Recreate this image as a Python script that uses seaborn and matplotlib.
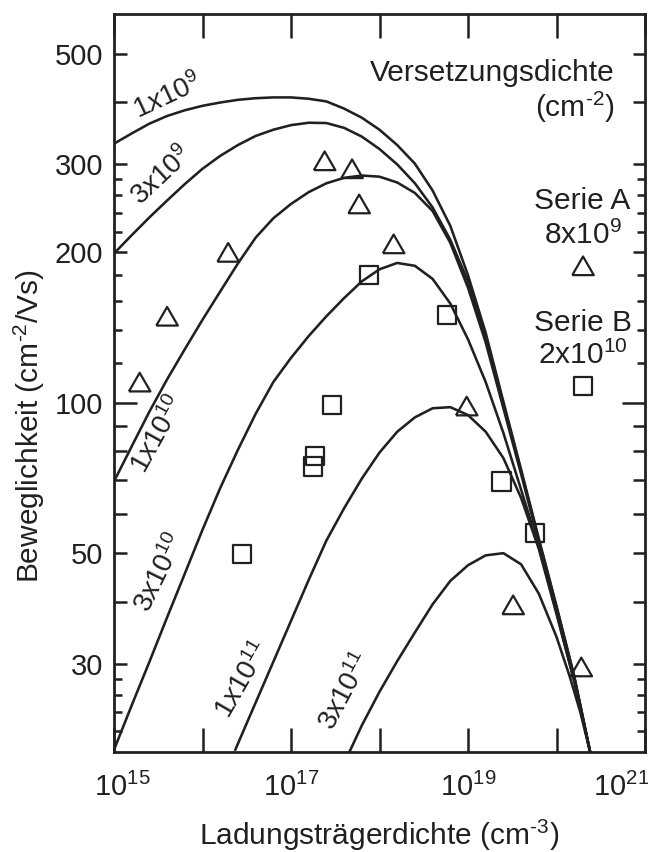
import numpy as np
import pandas as pd
import matplotlib
matplotlib.use("Agg")
import matplotlib.pyplot as plt
import matplotlib.ticker as mticker
from matplotlib.transforms import ScaledTranslation
import seaborn as sns

# ---------------- data ----------------
# log10 of carrier density and mobility (cm^2/Vs) along each curve
grid_logn = [15.0, 15.2, 15.4, 15.6, 15.8, 16.0, 16.2, 16.4, 16.6, 16.8, 17.0, 17.2, 17.4, 17.6,
             17.8, 18.0, 18.2, 18.4, 18.6, 18.8, 19.0, 19.2, 19.4, 19.6, 19.8, 20.0, 20.2, 20.38]
a_mu = [330, 346, 362, 375, 385, 393, 399, 404, 407, 408.5, 408.5, 406, 401, 388,
        372, 352, 328, 301, 266, 226, 180, 138, 100.5, 73.5, 53.5, 39.2, 28.4, 20]
b_mu = [199, 216.5, 235, 254, 274, 294, 312, 328, 342, 352, 359.5, 363.5, 363, 355,
        341, 322, 300, 275, 246, 212, 175, 135.5, 99.5, 73, 53.1, 39, 28.3, 20]
c_mu = [69.6, 81.8, 96, 111.4, 128, 146.6, 167, 190, 214, 234, 250, 264, 275, 282,
        285, 283.5, 276, 263, 242, 209, 170, 132, 97.5, 72, 52.6, 38.8, 28.2, 20]
d_mu = [20.2, 24.8, 30.3, 37.2, 45.5, 55.7, 67.5, 80.5, 95, 110, 123, 136, 149, 162,
        175, 185, 190.5, 188, 177, 158, 134, 110, 87, 67, 51.5, 38, 27.8, 20]

e_logn = [16.37, 16.6, 16.8, 17.0, 17.2, 17.4, 17.6, 17.8, 18.0, 18.2, 18.4, 18.6, 18.8,
          19.0, 19.2, 19.4, 19.6, 19.8, 20.0, 20.2, 20.38]
e_mu = [20.2, 25.1, 30.3, 36.6, 44.2, 53, 61.5, 70.5, 79.5, 87.5, 93.5, 97.5, 98,
        94.5, 87.5, 77.5, 64.5, 51, 37.8, 27.7, 20]

f_logn = [17.66, 17.8, 18.0, 18.2, 18.4, 18.6, 18.8, 19.0, 19.2, 19.4, 19.6, 19.8, 20.0,
          20.15, 20.27, 20.38]
f_mu = [20, 22.6, 26.4, 30.4, 34.7, 39.5, 44, 47.3, 49.5, 50, 47.5, 41.5, 34, 28.3, 24, 20]

curve_logn = [grid_logn, grid_logn, grid_logn, grid_logn, e_logn, f_logn]
curve_mu = [a_mu, b_mu, c_mu, d_mu, e_mu, f_mu]
curve_names = ["1e9", "3e9", "1e10", "3e10", "1e11", "3e11"]

# Serie A (triangles) and Serie B (squares)
serieA_logn = [15.29, 15.60, 16.29, 17.38, 17.69, 17.77, 18.16, 18.985, 19.51, 20.28]
serieA_mu = [110, 149, 200, 305, 294, 250, 208, 98.5, 39.4, 29.6]
serieB_logn = [16.45, 17.27, 17.25, 17.46, 17.885, 18.76, 19.38, 19.76]
serieB_mu = [49.8, 78.2, 74.6, 99, 180, 150, 69.6, 54.9]
legendA = (20.30, 188)
legendB = (20.30, 108)

# curve labels
label_mant = ["1", "3", "1", "3", "1", "3"]
label_exp = ["9", "9", "10", "10", "11", "11"]
label_logn = [15.61, 15.54, 15.50, 15.52, 16.46, 17.62]
label_mu = [409, 284.5, 86.4, 45.6, 27.9, 26.4]
label_rot = [25, 43, 61, 64, 60, 62]

y_major_labeled = [30, 50, 100, 200, 300, 500]
y_ticks_mid = [30, 40, 50, 60, 70, 80, 90, 200, 300, 400, 500]
y_ticks_long = [100]
y_ticks_short = [22, 24, 26, 28, 120, 140, 160, 180, 220, 240, 260, 280]
x_decades = [15, 16, 17, 18, 19, 20, 21]
x_labeled = [15, 17, 19, 21]

# ---------------- styling ----------------
sns.set_theme(style="ticks")
plt.rcParams["font.family"] = ["Liberation Sans", "DejaVu Sans"]
plt.rcParams["mathtext.fontset"] = "custom"
plt.rcParams["mathtext.rm"] = "Liberation Sans"
plt.rcParams["mathtext.it"] = "Liberation Sans:italic"
plt.rcParams["mathtext.bf"] = "Liberation Sans:bold"

INK = "#231f20"
FS = 21.5
HY = "\u2010"  # typographic hyphen for superscript exponents

W, H = 648, 852
fig = plt.figure(figsize=(W / 100, H / 100), dpi=100)
L, R, T, B = 114, 645, 14, 752
ax = fig.add_axes([L / W, 1 - B / H, (R - L) / W, (B - T) / H])
ax.set_xscale("log")
ax.set_yscale("log")

# curves
rows = []
for name, xs, ys in zip(curve_names, curve_logn, curve_mu):
    for xv, yv in zip(xs, ys):
        rows.append({"curve": name, "n": 10.0 ** xv, "mu": yv})
df = pd.DataFrame(rows)
for name in curve_names:
    sub = df[df["curve"] == name]
    sns.lineplot(data=sub, x="n", y="mu", sort=False, estimator=None,
                 color=INK, lw=1.85, ax=ax, legend=False)

# markers
tri = [(-1, -0.866), (1, -0.866), (0, 0.866), (-1, -0.866)]
dfA = pd.DataFrame({"n": 10.0 ** np.array(serieA_logn + [legendA[0]]),
                    "mu": serieA_mu + [legendA[1]]})
dfB = pd.DataFrame({"n": 10.0 ** np.array(serieB_logn + [legendB[0]]),
                    "mu": serieB_mu + [legendB[1]]})
sns.scatterplot(data=dfA, x="n", y="mu", marker=tri, s=15.5 ** 2,
                facecolors="none", edgecolor=INK, linewidth=1.6, ax=ax,
                legend=False, zorder=5)
sns.scatterplot(data=dfB, x="n", y="mu", marker="s", s=13.2 ** 2,
                facecolors="none", edgecolor=INK, linewidth=1.6, ax=ax,
                legend=False, zorder=5)

ax.set_xlim(1e15, 1e21)
ax.set_ylim(20, 600)

# ticks
ax.xaxis.set_major_locator(mticker.FixedLocator([10.0 ** k for k in x_decades]))
ax.xaxis.set_minor_locator(mticker.NullLocator())
ax.xaxis.set_major_formatter(mticker.FuncFormatter(
    lambda v, p: (r"$\mathregular{10^{%d}}$" % round(np.log10(v))) if round(np.log10(v)) in x_labeled else ""))
ax.yaxis.set_major_locator(mticker.FixedLocator(y_ticks_mid + y_ticks_long))
ax.yaxis.set_minor_locator(mticker.FixedLocator(y_ticks_short))
ax.yaxis.set_major_formatter(mticker.FuncFormatter(
    lambda v, p: ("%d" % round(v)) if round(v) in y_major_labeled else ""))
ax.yaxis.set_minor_formatter(mticker.NullFormatter())

ax.tick_params(axis="x", which="major", direction="in", length=17, width=1.8,
               top=True, bottom=True, labelsize=21, pad=15, colors=INK)
ax.tick_params(axis="y", which="major", direction="in", length=9, width=1.8,
               left=True, right=True, labelsize=21, pad=8, colors=INK)
ax.tick_params(axis="y", which="minor", direction="in", length=6, width=1.8,
               left=True, right=True, colors=INK)

ylocs = list(ax.yaxis.get_majorticklocs())
for loc, t in zip(ylocs, ax.yaxis.get_major_ticks(len(ylocs))):
    if loc in y_ticks_long:
        t.tick1line.set_markersize(16.5)
        t.tick2line.set_markersize(16.5)

# shift first and last x tick labels like in the reference
xlocs = list(ax.xaxis.get_majorticklocs())
xt = ax.xaxis.get_major_ticks(len(xlocs))
for loc, t in zip(xlocs, xt):
    k = round(np.log10(loc))
    dx = 8 if k == 15 else (-24 if k == 21 else 0)
    if dx:
        t.label1.set_transform(t.label1.get_transform() + ScaledTranslation(dx / 100, 0, fig.dpi_scale_trans))

for s in ax.spines.values():
    s.set_linewidth(2.0)
    s.set_color(INK)

ax.set_xlabel(r"Ladungsträgerdichte (cm$^{\mathregular{%s3}}$)" % HY, fontsize=FS, color=INK)
ax.xaxis.set_label_coords(0.5, (752 - 845) / 738)
ax.xaxis.label.set_va("baseline")
ax.set_ylabel(r"Beweglichkeit (cm$^{\mathregular{%s2}}$/Vs)" % HY, fontsize=FS, color=INK)
ax.yaxis.set_label_coords((39.5 - 114) / 531, (752 - 426) / 738)
ax.yaxis.label.set_va("baseline")

# curve labels
for m, e, xl, yl, rot in zip(label_mant, label_exp, label_logn, label_mu, label_rot):
    ax.text(10.0 ** xl, yl, r"$\mathit{%sx10^{%s}}$" % (m, e), rotation=rot,
            rotation_mode="anchor", ha="center", va="center", fontsize=20, color=INK)

# annotation texts
FA = 21.5
ax.text(10.0 ** 20.661, 441, "Versetzungsdichte", ha="right", va="baseline", fontsize=FA, color=INK)
ax.text(10.0 ** 20.661, 374, r"(cm$^{\mathregular{%s2}}$)" % HY, ha="right", va="baseline", fontsize=FA, color=INK)
ax.text(10.0 ** 20.295, 244, "Serie A", ha="center", va="baseline", fontsize=FA, color=INK)
ax.text(10.0 ** 20.30, 207.7, r"8x10$^{\mathregular{9}}$", ha="center", va="baseline", fontsize=FA, color=INK)
ax.text(10.0 ** 20.295, 139.2, "Serie B", ha="center", va="baseline", fontsize=FA, color=INK)
ax.text(10.0 ** 20.30, 119.4, r"2x10$^{\mathregular{10}}$", ha="center", va="baseline", fontsize=FA, color=INK)

fig.savefig("out.png", dpi=100)
